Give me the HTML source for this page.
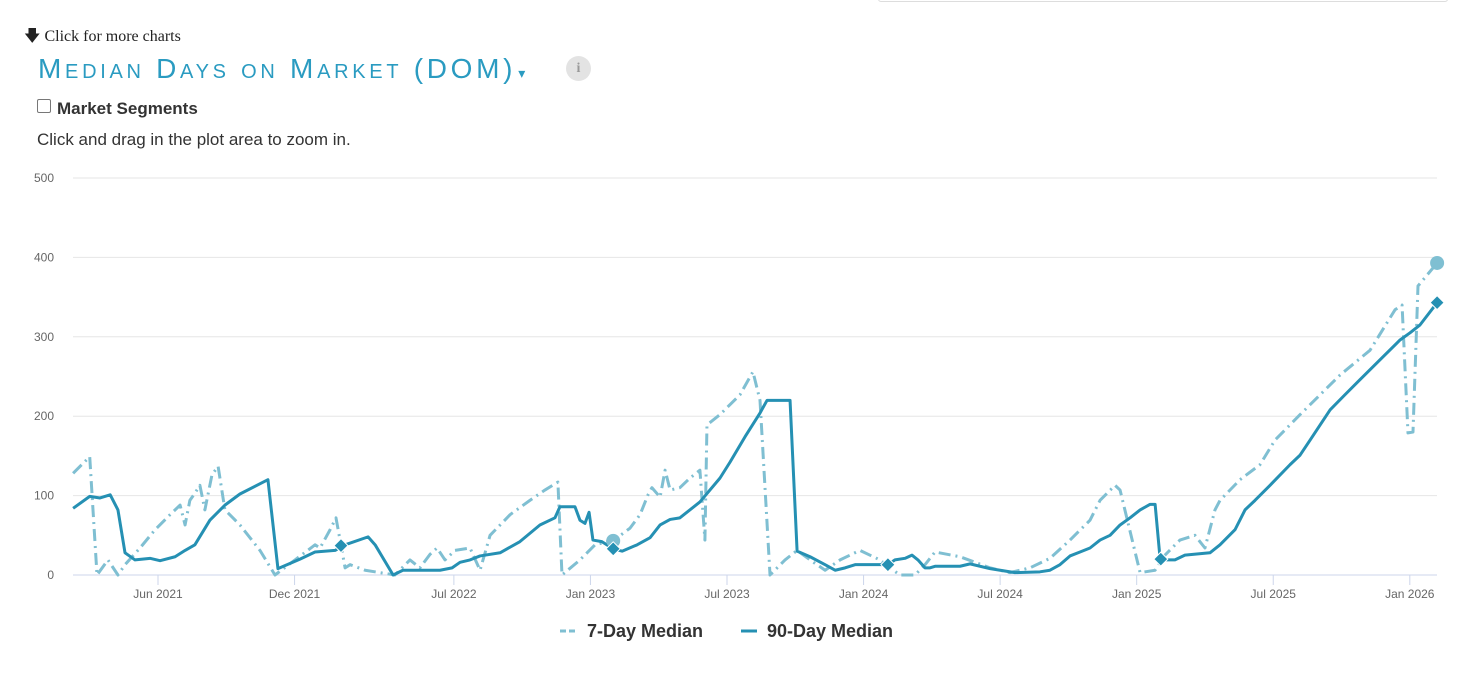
<!DOCTYPE html>
<html><head><meta charset="utf-8"><style>
body{margin:0;width:1484px;height:674px;background:#fff;position:relative;font-family:"Liberation Sans",sans-serif;overflow:hidden}
.abs{position:absolute}
</style></head><body>
<div class="abs" style="left:878px;top:-1px;width:568px;height:2px;border:1px solid #ddd;border-top:none;border-radius:0 0 3px 3px"></div>
<div class="abs" style="left:24px;top:25px;font-family:'Liberation Serif',serif;font-size:16px;color:#222">🡇&#xFE0E; Click for more charts</div>
<div class="abs" style="left:38px;top:53px;font-size:28px;color:#2a9bc1;font-variant:small-caps;letter-spacing:3.7px;white-space:nowrap">Median Days on Market (DOM)<span style="font-size:14px;letter-spacing:0;margin-left:2px">▾</span></div>
<div class="abs" style="left:566px;top:56px;width:25px;height:25px;border-radius:50%;background:#e3e3e3;color:#999;font-size:14px;text-align:center;line-height:25px;font-family:'Liberation Serif',serif;font-weight:bold">i</div>
<div class="abs" style="left:37px;top:99px;font-size:17px;font-weight:bold;color:#333"><span style="display:inline-block;width:12px;height:12px;border:1px solid #777;border-radius:2px;vertical-align:1px;margin-right:6px"></span>Market Segments</div>
<div class="abs" style="left:37px;top:130px;font-size:17px;color:#333">Click and drag in the plot area to zoom in.</div>
<svg class="abs" style="left:0;top:0" width="1484" height="674" id="chart"></svg>
<script>
const yTicks=[0,100,200,300,400,500];
const xTickMonths=[5,11,18,24,30,36,42,48,54,60];
const xTickLabels=["Jun 2021","Dec 2021","Jul 2022","Jan 2023","Jul 2023","Jan 2024","Jul 2024","Jan 2025","Jul 2025","Jan 2026"];
const m90=[1.27,2.0,2.45,2.9,3.24,3.55,3.99,4.65,5.09,5.75,6.19,6.62,7.28,7.94,8.6,9.83,10.27,11.24,11.9,12.78,13.22,14.23,14.54,15.33,15.76,17.39,17.92,18.27,18.71,19.15,20.03,20.9,21.78,22.44,22.66,23.32,23.54,23.76,23.94,24.11,24.5,25.0,25.4,26.05,26.62,27.06,27.5,27.93,28.81,29.69,30.13,30.79,31.45,31.76,32.77,33.08,33.65,34.31,34.75,35.19,35.63,36.72,37.07,37.38,37.82,38.13,38.39,38.7,38.92,39.14,40.24,40.68,41.56,42.65,43.75,44.19,44.63,45.07,45.51,45.95,46.39,46.83,47.27,47.71,48.15,48.59,48.81,49.03,49.24,49.68,50.12,51.22,51.66,52.32,52.76,53.2,53.86,54.74,55.18,55.62,56.06,56.5,57.15,57.81,58.69,59.57,60.01,60.45,61.2];
const v90=[84,99,97,101,82,28,19,21,18,23,31,38,69,88,102,120,8,20,29,31,38,48,38,0,6,6,9,16,19,24,28,42,63,72,86,86,69,65,79,44,42,33,30,38,47,63,70,72,92,122,142,174,204,220,220,30,23,13,6,9,13,13,13,19,21,25,19,9,9,11,11,14,8,3,4,6,13,24,29,34,44,50,63,72,82,89,89,20,19,19,25,28,38,57,82,94,113,139,151,170,189,208,227,246,271,296,305,315,343];
const m7=[1.27,2.0,2.32,2.8,3.24,3.55,4.21,4.87,5.53,5.97,6.19,6.4,6.62,6.84,7.06,7.37,7.64,7.94,8.6,9.48,10.14,11.02,11.9,12.12,12.56,12.82,13.22,13.44,14.1,14.75,15.41,16.07,16.51,16.95,17.26,17.61,18.05,18.71,19.15,19.59,20.47,21.34,22.0,22.57,22.75,23.54,24.2,25.04,25.74,26.18,26.53,26.7,27.06,27.28,27.5,27.93,28.37,28.81,29.03,29.12,29.69,30.57,31.14,31.45,31.89,32.55,33.08,33.65,34.31,34.97,35.84,36.72,37.16,37.6,38.26,38.7,39.14,40.24,41.56,42.43,43.31,44.19,45.07,45.95,46.39,47.05,47.27,48.15,48.81,49.24,49.9,50.56,51.0,51.44,51.66,52.54,53.42,54.08,55.18,56.06,56.94,58.25,59.35,59.66,59.92,60.14,60.36,61.2];
const v7=[128,149,0,19,0,13,34,57,76,88,63,94,103,113,82,126,137,82,63,31,0,19,38,34,57,72,9,13,6,3,0,19,9,26,34,19,31,34,6,50,76,94,107,117,0,19,38,44,59,76,101,110,98,132,107,110,122,132,44,189,202,227,256,220,0,19,31,19,6,19,31,19,9,0,0,13,29,23,9,3,9,21,44,69,94,113,107,3,6,25,44,50,34,82,94,120,139,170,202,227,252,283,334,340,179,180,364,393];
const diamondMonths=[13.04,25.0,37.07,49.06,61.2];
const diamondValues=[37,33,13,20,343];
const circleMonths=[25.0,61.2];
const circleValues=[43,393];

const svg=document.getElementById('chart');const NS='http://www.w3.org/2000/svg';
const X=m=>44.2+m*22.76, Y=v=>575-v*0.794;
function mk(t,a){const e=document.createElementNS(NS,t);for(const k in a)e.setAttribute(k,a[k]);svg.appendChild(e);return e;}
yTicks.forEach(t=>{
 const g=mk('line',{x1:73,x2:1437,y1:Y(t),y2:Y(t),stroke:t===0?'#ccd6eb':'#e6e6e6','stroke-width':1});
 
 
 const l=mk('text',{x:54,y:Y(t)+4,'text-anchor':'end','font-size':12,fill:'#666','font-family':'Liberation Sans'});l.textContent=t;
 
 
});
xTickMonths.forEach((m,i)=>{
 const t=mk('line',{x1:X(m),x2:X(m),y1:575,y2:585,stroke:'#ccd6eb'});
 
 
 const l=mk('text',{x:X(m),y:598,'text-anchor':'middle','font-size':12,fill:'#666','font-family':'Liberation Sans'});l.textContent=xTickLabels[i];
 
 
});
const p7=mk('polyline',{points:m7.map((m,i)=>X(m)+','+Y(v7[i])).join(' '),fill:'none',stroke:'#7fbfd2','stroke-width':3,'stroke-dasharray':'12 5 2 5','stroke-linejoin':'round'});


const p90=mk('polyline',{points:m90.map((m,i)=>X(m)+','+Y(v90[i])).join(' '),fill:'none',stroke:'#2590b3','stroke-width':3,'stroke-linejoin':'round'});


circleMonths.forEach((m,i)=>{const c=mk('circle',{cx:X(m),cy:Y(circleValues[i]),r:7,fill:'#7fbfd2'});
 
 });
diamondMonths.forEach((m,i)=>{const x=X(m),y=Y(diamondValues[i]);const d=mk('polygon',{points:`${x},${y-7} ${x+7},${y} ${x},${y+7} ${x-7},${y}`,fill:'#2590b3',stroke:'#fff','stroke-width':1});
 
 });
const l1=mk('line',{x1:560,x2:576,y1:631,y2:631,stroke:'#7fbfd2','stroke-width':3,'stroke-dasharray':'6 3'});


const t1=mk('text',{x:587,y:637,'font-size':18,'font-weight':'bold',fill:'#333','font-family':'Liberation Sans'});t1.textContent='7-Day Median';


const l2=mk('line',{x1:741,x2:757,y1:631,y2:631,stroke:'#2590b3','stroke-width':3});


const t2=mk('text',{x:767,y:637,'font-size':18,'font-weight':'bold',fill:'#333','font-family':'Liberation Sans'});t2.textContent='90-Day Median';


</script>
</body></html>
